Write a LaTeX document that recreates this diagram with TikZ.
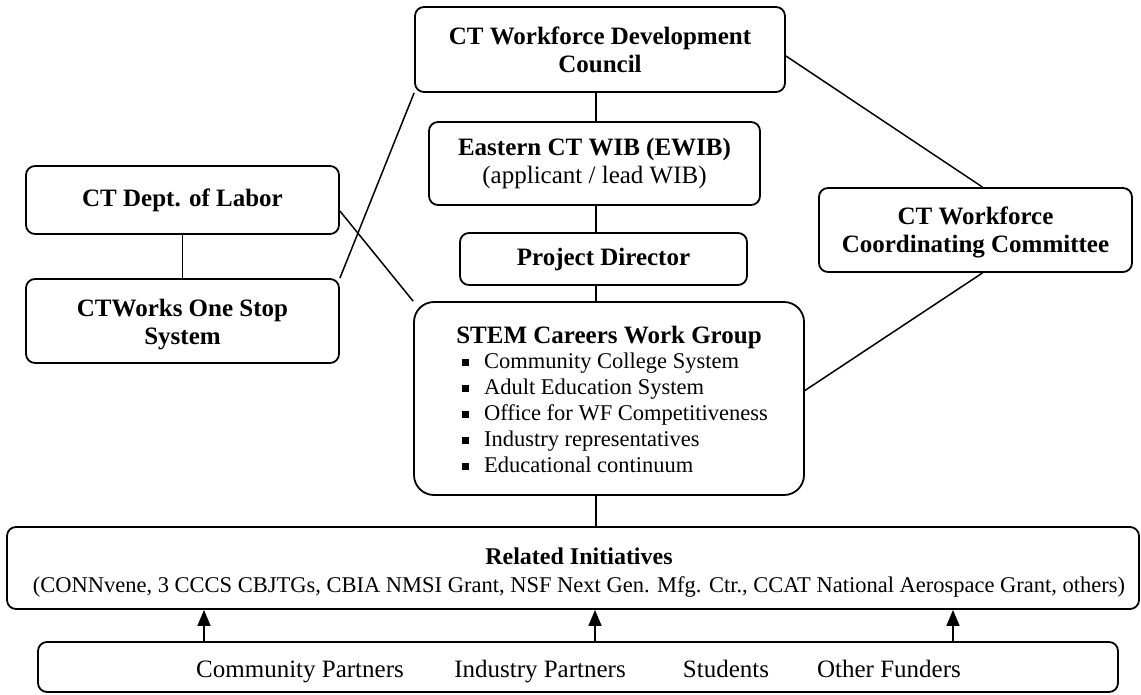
\documentclass[tikz,border=0pt]{standalone}
\usepackage{fontspec}
\setmainfont{Liberation Serif}
\usepackage{tikz}
\usetikzlibrary{arrows.meta}

% small square bullet for the work group members
\newcommand{\sqitem}{\rule[3pt]{7pt}{7pt}\hspace{15pt}}

\begin{document}
\begin{tikzpicture}[x=1pt,y=-1pt]
		\useasboundingbox[fill=white] (0,0) rectangle (1141,694);
		\coordinate (spine) at (596,0);

		\begin{scope}[every node/.style={rectangle,rounded corners=9pt,line width=1.8pt,draw,
		              align=center,inner sep=0pt,font={\fontsize{25}{28}\selectfont\bfseries}}]
		    \node[minimum width=370pt,minimum height=85pt] (council) at (600,49.5) {CT Workforce Development\\Council};
		    \node[minimum width=331pt,minimum height=83pt] (ewib) at (594.5,163.5) {Eastern CT WIB (EWIB)\\\mdseries(applicant / lead WIB)};
		    \node[minimum width=287pt,minimum height=52pt] (director) at (603.5,259) {Project Director};
		    \node[minimum width=390pt,minimum height=193pt,rounded corners=20pt] (stem) at (609,398.5) {\rule{0pt}{27pt}STEM Careers Work Group\\[1pt]
		        \hspace*{12pt}{\mdseries\fontsize{22.5}{26}\selectfont\begin{tabular}{@{}l@{}}
		        \sqitem Community College System\\
		        \sqitem Adult Education System\\
		        \sqitem Office for WF Competitiveness\\
		        \sqitem Industry representatives\\
		        \sqitem Educational continuum
		        \end{tabular}}};
		    \node[minimum width=313pt,minimum height=68pt] (labor) at (182.5,200) {CT Dept. of Labor};
		    \node[minimum width=313pt,minimum height=84pt] (ctworks) at (182.5,321) {\rule{0pt}{24pt}CTWorks One Stop\\System};
		    \node[minimum width=313pt,minimum height=84pt] (committee) at (975.5,230) {\rule{0pt}{22pt}CT Workforce\\Coordinating Committee};
		    \node[minimum width=1132pt,minimum height=82pt] (related) at (573,568) {\rule{0pt}{26pt}\fontsize{24}{28}\selectfont\hspace*{12pt}Related Initiatives\\
		        \mdseries\fontsize{22.5}{28}\selectfont\hspace*{12pt}(CONNvene, 3 CCCS CBJTGs, CBIA NMSI Grant, NSF Next Gen. Mfg. Ctr., CCAT National Aerospace Grant, others)};
		    \node[minimum width=1080pt,minimum height=50pt] (partners) at (578,667) {};
		\end{scope}

		\begin{scope}[every node/.style={anchor=base,font={\fontsize{25}{28}\selectfont}}]
		    \node (community) at (300,677) {Community Partners};
		    \node (industry) at (540,677) {Industry Partners};
		    \node (students) at (726,677) {Students};
		    \node (funders) at (889,677) {Other Funders};
		\end{scope}

		\begin{scope}[>={Triangle[length=16pt,width=13pt]},
		              every edge/.style={draw=black,line width=1.5pt}]
		    \path (council.south -| spine) edge (ewib.north -| spine);
		    \path (ewib.south -| spine) edge (director.north -| spine);
		    \path (director.south -| spine) edge (stem.north -| spine);
		    \path (stem.south -| spine) edge (related.north -| spine);
		    \path (labor.south) edge (ctworks.north);
		    \path (ctworks.north east) edge (council.south west);
		    \path (labor.-4) edge (stem.north west);
		    \path (council.-2) edge ([xshift=7pt]committee.north);
		    \path ([xshift=7pt]committee.south) edge ([yshift=8pt]stem.east);
		    \foreach \x [count=\i] in {204,595,953} {
		        \coordinate (up\i) at (\x,0);
		        \path (partners.north -| up\i) edge[->] (related.south -| up\i);
		    }
		\end{scope}
\end{tikzpicture}
\end{document}
